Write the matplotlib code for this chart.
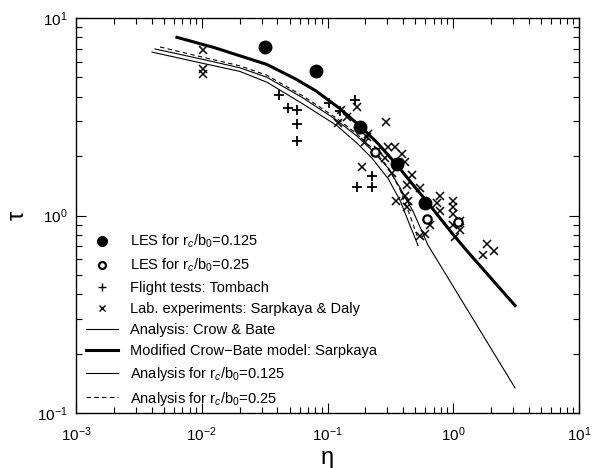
import matplotlib
matplotlib.use("Agg")
import matplotlib.pyplot as plt
from matplotlib.lines import Line2D

plt.rcParams['font.family'] = ['Liberation Sans', 'DejaVu Sans']
plt.rcParams['mathtext.fontset'] = 'custom'
plt.rcParams['mathtext.rm'] = 'Liberation Sans'
plt.rcParams['mathtext.it'] = 'Liberation Sans:italic'

# ---- data ----
les125_eta = [0.032, 0.081, 0.18, 0.357, 0.60]
les125_tau = [7.1, 5.4, 2.8, 1.82, 1.16]

les25_eta = [0.24, 0.62, 1.09]
les25_tau = [2.1, 0.96, 0.93]

flight_eta = [0.041, 0.0488, 0.0569, 0.0569, 0.0569, 0.103, 0.126, 0.166, 0.226, 0.172, 0.226]
flight_tau = [4.06, 3.51, 3.41, 2.90, 2.38, 3.70, 3.37, 3.83, 1.58, 1.39, 1.39]

lab_eta = [0.0102, 0.0102, 0.0102, 0.128, 0.121, 0.143, 0.172, 0.29, 0.206, 0.188,
           0.21, 0.20, 0.252, 0.303, 0.345, 0.39, 0.286, 0.41, 0.326, 0.47,
           0.43, 0.545, 0.41, 0.44, 0.43, 0.35, 0.785, 0.74, 0.785, 0.655,
           0.60, 0.545, 1.0, 1.0, 1.0, 1.13, 1.0, 1.13, 1.03, 1.85, 2.11, 1.71]
lab_tau = [6.9, 5.5, 5.2, 3.41, 2.93, 3.14, 3.53, 2.97, 2.49, 1.77,
           2.6, 2.35, 2.14, 2.21, 2.21, 2.06, 1.95, 1.86, 1.65, 1.6,
           1.42, 1.37, 1.26, 1.19, 1.1, 1.19, 1.26, 1.16, 1.06, 0.89,
           0.81, 0.79, 1.19, 1.1, 1.02, 0.94, 0.89, 0.84, 0.78, 0.72, 0.66, 0.63]

cb_eta = [0.00425, 0.01, 0.02, 0.033, 0.0638, 0.119, 0.172, 0.226, 0.303, 0.378,
          0.479, 0.63, 1.26, 3.1]
cb_tau = [6.97, 6.19, 5.60, 5.01, 3.94, 3.03, 2.52, 2.14, 1.74, 1.38,
          1.05, 0.708, 0.343, 0.134]

sarp_eta = [0.00635, 0.0126, 0.0329, 0.0562, 0.0811, 0.126, 0.18, 0.251, 0.357,
            0.501, 0.615, 1.0, 1.28, 3.1]
sarp_tau = [7.98, 7.08, 5.82, 4.90, 4.27, 3.47, 2.85, 2.32, 1.80,
            1.38, 1.18, 0.80, 0.664, 0.35]

an125_eta = [0.00402, 0.01, 0.02, 0.033, 0.0638, 0.119, 0.172, 0.226, 0.303,
             0.378, 0.453, 0.525]
an125_tau = [6.72, 5.91, 5.37, 4.73, 3.67, 2.85, 2.32, 1.95, 1.54,
             1.19, 0.89, 0.705]

an25_eta = [0.00466, 0.01, 0.02, 0.033, 0.0638, 0.119, 0.172, 0.226, 0.303,
            0.378, 0.453, 0.525]
an25_tau = [7.13, 6.35, 5.73, 5.13, 4.03, 3.10, 2.58, 2.19, 1.76,
            1.35, 1.0, 0.764]

labels = ["LES for r$_c$/b$_0$=0.125", "LES for r$_c$/b$_0$=0.25",
          "Flight tests: Tombach", "Lab. experiments: Sarpkaya & Daly",
          "Analysis: Crow & Bate", "Modified Crow\u2212Bate model: Sarpkaya",
          "Analysis for r$_c$/b$_0$=0.125", "Analysis for r$_c$/b$_0$=0.25"]

# ---- figure ----
fig = plt.figure(figsize=(6.02, 4.68), dpi=100)
ax = fig.add_axes([76/602, 1-413/468, (579-76)/602, (413-18)/468])

ax.plot(cb_eta, cb_tau, color='black', lw=0.8)
ax.plot(an125_eta, an125_tau, color='black', lw=0.8)
ax.plot(an25_eta, an25_tau, color='black', lw=0.8, ls=(0, (4, 3)))
ax.plot(sarp_eta, sarp_tau, color='black', lw=2.2)

ax.plot(flight_eta, flight_tau, ls='none', marker='+', ms=7, mew=1.3, color='black')
ax.plot(lab_eta, lab_tau, ls='none', marker='x', ms=6, mew=1.1, color='black')
ax.plot(les125_eta, les125_tau, ls='none', marker='o', ms=9, color='black')
ax.plot(les25_eta, les25_tau, ls='none', marker='o', ms=6, mfc='white', mec='black', mew=1.6)

ax.set_xscale('log')
ax.set_yscale('log')
ax.set_xlim(1e-3, 1e1)
ax.set_ylim(1e-1, 1e1)

ax.tick_params(which='both', direction='in', top=True, right=True, labelsize=11, width=0.8)
ax.tick_params(which='major', length=7)
ax.tick_params(which='minor', length=4)
ax.tick_params(axis='x', which='major', pad=9)
ax.tick_params(axis='y', which='major', pad=6)
for s in ax.spines.values():
    s.set_linewidth(1.0)

ax.set_xlabel('\u03b7', fontsize=17, labelpad=2)
ax.set_ylabel('\u03c4', fontsize=17, labelpad=6)

handles = [
    Line2D([], [], ls='none', marker='o', ms=7, color='black'),
    Line2D([], [], ls='none', marker='o', ms=5, mfc='white', mec='black', mew=1.6),
    Line2D([], [], ls='none', marker='+', ms=6, mew=1.0, color='black'),
    Line2D([], [], ls='none', marker='x', ms=5, mew=1.0, color='black'),
    Line2D([], [], color='black', lw=0.8),
    Line2D([], [], color='black', lw=2.2),
    Line2D([], [], color='black', lw=0.8),
    Line2D([], [], color='black', lw=0.8, ls=(0, (4, 3))),
]
ax.legend(handles, labels, loc='lower left', bbox_to_anchor=(0.0, -0.012),
          frameon=False, fontsize=10.5, handlelength=2.2, handletextpad=0.8,
          labelspacing=0.47, borderaxespad=0.3)

fig.savefig('out.png', dpi=100)
